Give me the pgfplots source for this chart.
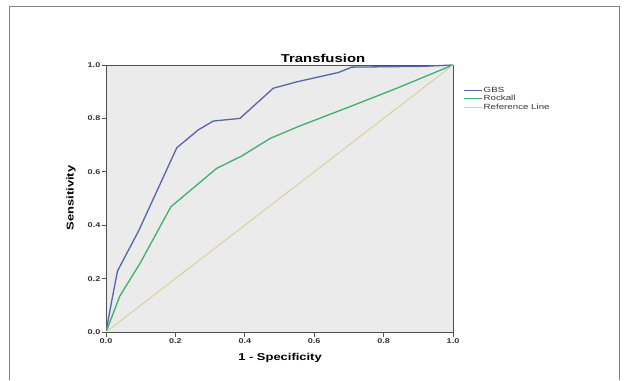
\documentclass[border=0pt]{standalone}
\usepackage{fontspec}
\setmainfont{Liberation Sans}[FakeStretch=1.3]
\usepackage{pgfplots}
\pgfplotsset{compat=1.18}
\definecolor{gbs}{RGB}{88,100,168}
\definecolor{rock}{RGB}{60,176,110}
\definecolor{refl}{RGB}{214,210,160}
\definecolor{bg}{RGB}{235,235,235}
\definecolor{axc}{RGB}{80,80,80}
\definecolor{frame}{RGB}{130,130,130}
\begin{document}
\begin{tikzpicture}[x=1bp,y=1bp]
\path[use as bounding box] (0,0) rectangle (627,380);
\draw[frame,line width=0.8bp] (9,0) -- (9,374) -- (619,374) -- (619,0);
\begin{axis}[
  at={(106bp,48bp)}, anchor=south west,
  width=347bp, height=267bp, scale only axis,
  xmin=0, xmax=1, ymin=0, ymax=1,
  xtick={0,0.2,0.4,0.6,0.8,1}, ytick={0,0.2,0.4,0.6,0.8,1},
  xtick pos=bottom, ytick pos=left,
  tick align=outside, major tick length=4.5bp,
  axis line style={axc, line width=0.9bp},
  every tick/.style={axc, line width=0.8bp},
  axis background/.style={fill=bg},
  /pgf/number format/assume math mode=true,
  /pgf/number format/.cd, fixed, fixed zerofill, precision=1, /pgfplots/.cd,
  ticklabel style={font=\bfseries\fontsize{7}{9}\selectfont, text=black!80},
  yticklabel style={inner sep=1bp},
  xticklabel style={inner sep=2bp},
  legend style={at={(axis description cs:1.03,0.922)}, anchor=north west,
    draw=none, fill=none, font=\fontsize{7.5}{9}\selectfont, row sep=0.1bp,
    inner sep=0pt, nodes={inner sep=0.8bp, text=black!80}},
  legend cell align=left,
  legend image code/.code={\draw[#1] (0bp,0bp) -- (18bp,0bp);},
]
\addplot[gbs, line width=1.3bp] coordinates {
(0,0) (0.017,0.12) (0.033,0.228) (0.060,0.295) (0.093,0.376) (0.204,0.690)
(0.266,0.757) (0.309,0.790) (0.386,0.800) (0.482,0.913) (0.55,0.937)
(0.670,0.972) (0.708,0.992) (0.914,0.995) (1,1)};
\addlegendentry{GBS}
\addplot[rock, line width=1.3bp] coordinates {
(0,0) (0.040,0.135) (0.098,0.257) (0.187,0.469) (0.319,0.613) (0.391,0.659)
(0.473,0.725) (0.559,0.772) (0.703,0.844) (0.838,0.913) (1,1)};
\addlegendentry{Rockall}
\addplot[refl, line width=1bp] coordinates {(0,0) (1,1)};
\addlegendentry{Reference Line}
\end{axis}
\node[font=\bfseries\fontsize{11.5}{13}\selectfont] at (323,322) {Transfusion};
\node[font=\bfseries\fontsize{10}{12}\selectfont] at (280,22) {1 - Specificity};
\node[font=\bfseries\fontsize{10}{12}\selectfont, rotate=90] at (71,182) {Sensitivity};
\end{tikzpicture}
\end{document}
